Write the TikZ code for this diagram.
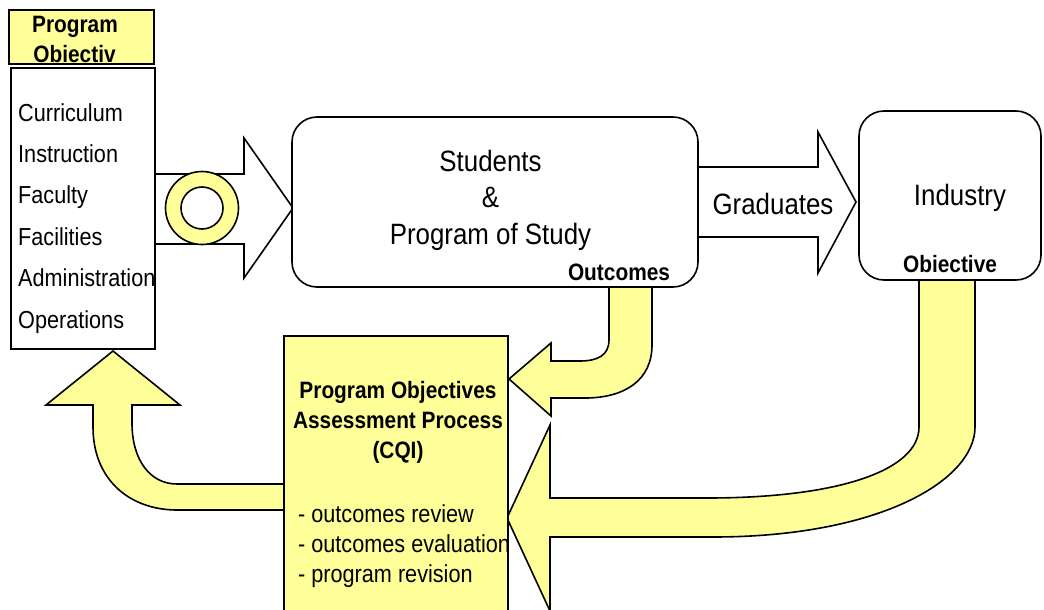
\documentclass[tikz,border=0pt]{standalone}
\usepackage{fontspec}
\setmainfont[FakeStretch=0.88]{Liberation Sans}

\definecolor{paleyellow}{RGB}{255,255,153}

\newcommand{\itemsize}{\fontsize{24.6}{30}\selectfont}
\newcommand{\bigsize}{\fontsize{29.4}{36}\selectfont}
\newcommand{\labelsize}{\fontsize{23.7}{30}\selectfont\bfseries}

\tikzset{
  outline/.style={draw=black, line width=1.6pt},
  yellowshape/.style={outline, fill=paleyellow},
  whiteshape/.style={outline, fill=white},
  txt/.style={inner sep=0pt},
}

\begin{document}
\begin{tikzpicture}[x=1pt, y=-1pt]
    \useasboundingbox (0,0) rectangle (1044,610);
    \clip (0,0) rectangle (1044,610);

    % white block arrows
    \draw[whiteshape] (155,174) -- (244,174) -- (244,138) -- (293,208) -- (244,278) -- (244,244) -- (155,244) -- cycle;
    \draw[whiteshape] (698,167) -- (818,167) -- (818,132) -- (856,202) -- (818,273) -- (818,237) -- (698,237) -- cycle;

    % ring on the input arrow
    \draw[yellowshape, even odd rule] (202,208) circle [radius=36.5] (202,208) circle [radius=21];

    % yellow feedback arrows
    \draw[yellowshape] (609,280) -- (609,340) .. controls (609,355) and (598,361) .. (580,361) -- (551,361) -- (551,343)
        -- (509,379) -- (551,416) -- (551,398) -- (585,398) .. controls (625,398) and (652,380) .. (652,345) -- (652,280) -- cycle;
    \draw[yellowshape] (919,275) -- (919,427) .. controls (919,470) and (840,498) .. (707,498) -- (550,498) -- (550,425)
        -- (507,518) -- (550,611) -- (550,537) -- (713,537) .. controls (880,537) and (975,480) .. (975,427) -- (975,275) -- cycle;
    \draw[yellowshape] (290,484) -- (177,484) .. controls (150,484) and (132,460) .. (132,423) -- (132,405) -- (180,405)
        -- (113,351) -- (46,405) -- (93,405) -- (93,427) .. controls (93,480) and (130,510) .. (177,510) -- (290,510) -- cycle;

    % boxes
    \node[whiteshape, minimum width=144pt, minimum height=281pt] (factors) at (83,208.5) {};
    \node[yellowshape, minimum width=145pt, minimum height=54pt] (title) at (81.5,37) {};
    \node[whiteshape, rounded corners=25pt, minimum width=406pt, minimum height=170pt] (students) at (495,202) {};
    \node[whiteshape, rounded corners=25pt, minimum width=182pt, minimum height=169pt] (industry) at (950,195.5) {};
    \node[yellowshape, minimum width=224pt, minimum height=300pt] (cqi) at (396,486) {};

    % title box text
    \node[txt, anchor=base, font=\labelsize] (titleA) at (75,32.7) {Program};
    \begin{scope}
        \clip (10,11) rectangle (153,63.5);
        \node[txt, anchor=base, font=\labelsize] (titleB) at (74.5,62.7) {Obiectiv};
    \end{scope}

    % program factors
    \foreach \nm/\lbl [count=\i from 0] in {curr/Curriculum, instr/Instruction, fac/Faculty,
        facil/Facilities, admin/Administration, oper/Operations}
        \node[txt, anchor=base west, font=\itemsize] (\nm) at (18,121+41.4*\i) {\lbl};

    % students
    \node[txt, anchor=base, font=\bigsize] (stud) at (490.5,171) {Students};
    \node[txt, anchor=base, font=\bigsize] (amp) at (490.5,207) {\&};
    \node[txt, anchor=base, font=\bigsize] (study) at (490.5,244) {Program of Study};
    \node[txt, anchor=base, font=\labelsize] (outc) at (619,280) {Outcomes};

    \node[txt, anchor=base, font=\bigsize] (grad) at (773,214) {Graduates};
    \node[txt, anchor=base, font=\bigsize] (ind) at (960,205) {Industry};
    \node[txt, anchor=base, font=\labelsize] (obj) at (950,272) {Obiective};

    % assessment process
    \node[txt, anchor=base, font=\labelsize] (cqiA) at (398,398) {Program Objectives};
    \node[txt, anchor=base, font=\labelsize] (cqiB) at (398,428) {Assessment Process};
    \node[txt, anchor=base, font=\labelsize] (cqiC) at (398,458) {(CQI)};
    \node[txt, anchor=base west, font=\itemsize] (rev) at (298,522) {- outcomes review};
    \node[txt, anchor=base west, font=\itemsize] (eval) at (298,552) {- outcomes evaluation};
    \node[txt, anchor=base west, font=\itemsize] (revis) at (298,582) {- program revision};

\end{tikzpicture}
\end{document}
